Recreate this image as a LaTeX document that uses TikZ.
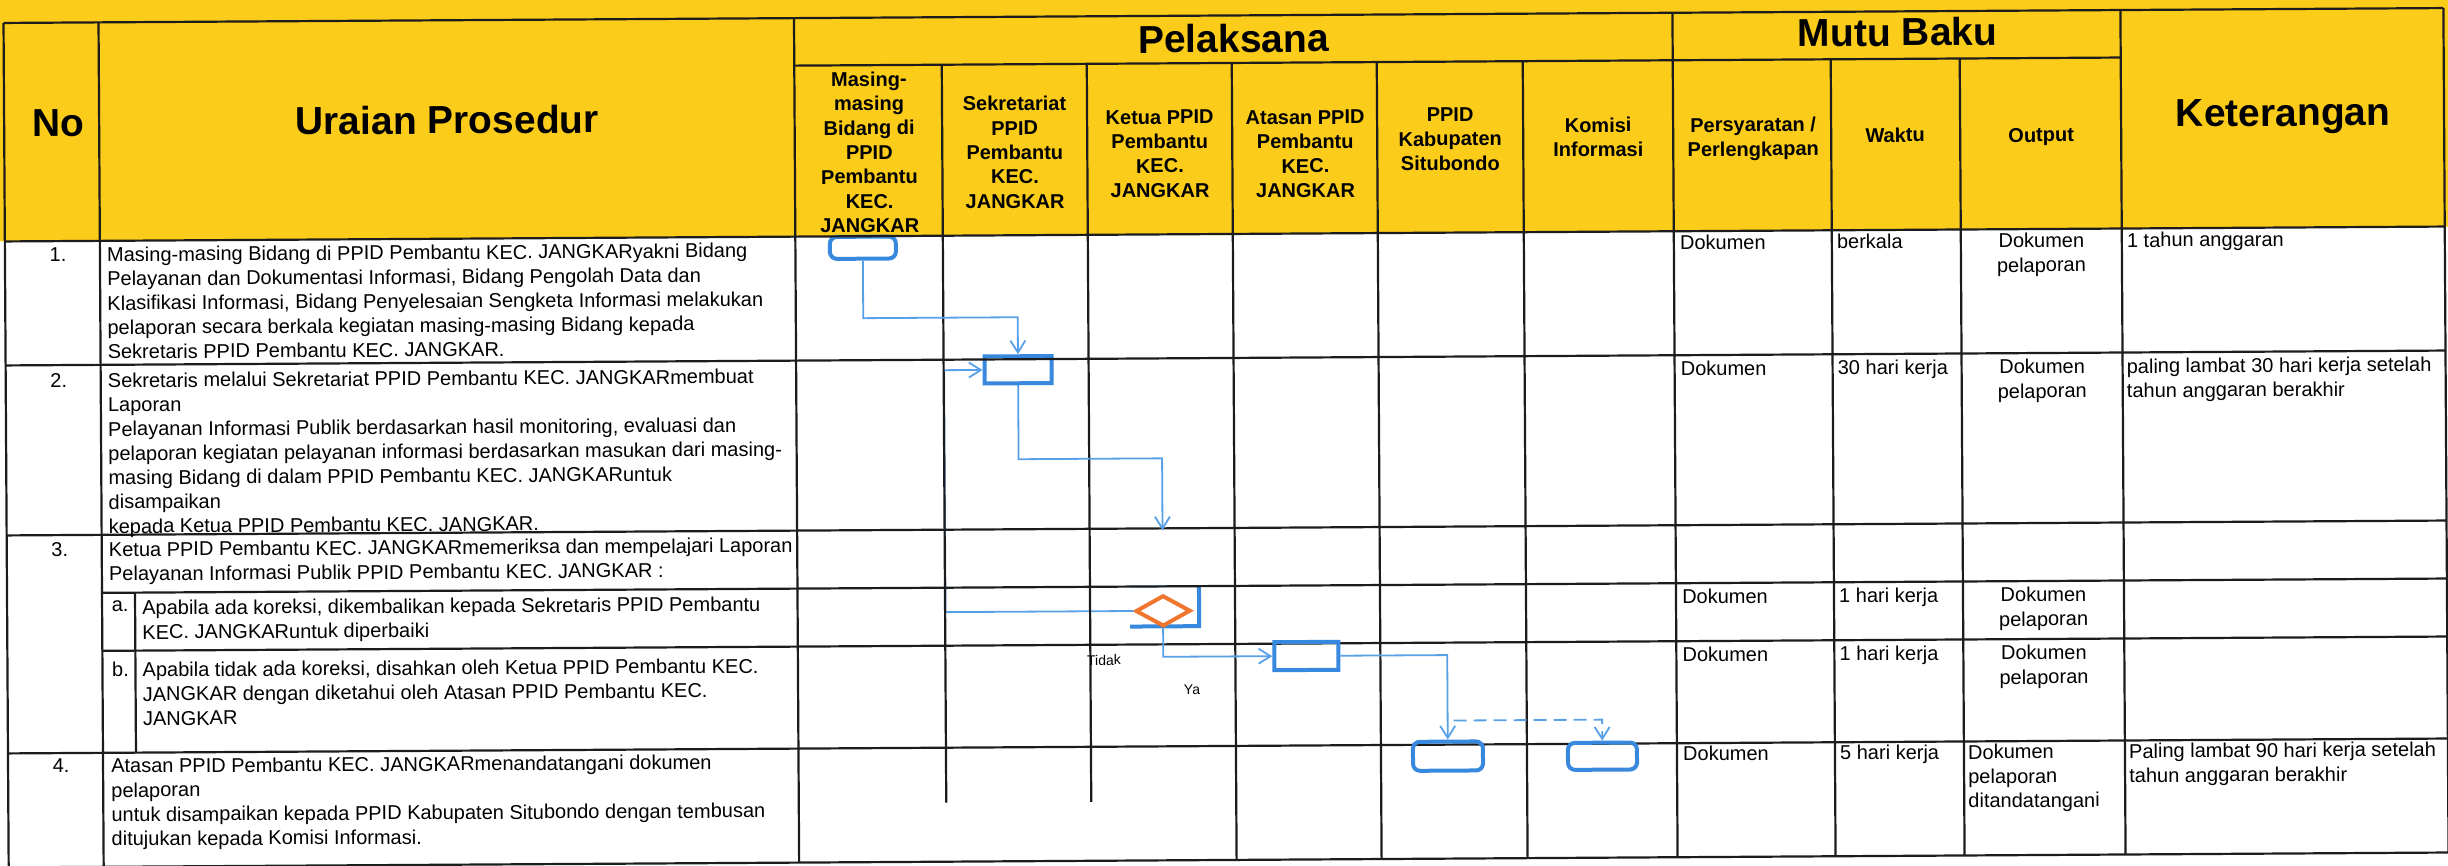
\documentclass[tikz,border=0pt]{standalone}
\usepackage{fontspec}
\setmainfont{Liberation Sans}
\usetikzlibrary{shapes.geometric,arrows.meta}
\definecolor{hdryellow}{RGB}{252,204,26}
\definecolor{boxblue}{RGB}{56,136,222}
\definecolor{linkblue}{RGB}{88,160,232}
\definecolor{decorange}{RGB}{240,118,46}
\definecolor{gridline}{RGB}{28,28,28}
\tikzset{
  gridrule/.style={draw=gridline, line width=2.2pt},
  bighead/.style={font=\fontsize{39}{44}\selectfont\bfseries, inner sep=0pt, anchor=base},
  colhead/.style={font=\fontsize{20}{24.4}\selectfont\bfseries, align=center, inner sep=0pt},
  bodytext/.style={font=\fontsize{20}{24.3}\selectfont, align=left, anchor=north west, inner sep=0pt},
  numtext/.style={font=\fontsize{20}{24.3}\selectfont, anchor=north, inner sep=0pt},
  midtext/.style={font=\fontsize{20}{24.3}\selectfont, align=center, anchor=north, inner sep=0pt},
  smalltext/.style={font=\fontsize{14}{16}\selectfont, inner sep=0pt},
  procbox/.style={draw=boxblue, line width=4pt, inner sep=0pt},
  endbox/.style={procbox, rounded corners=7pt},
  decision/.style={shape=diamond, draw=decorange, fill=white, line width=4pt, inner sep=0pt},
  flow/.style={draw=linkblue, line width=1.8pt, -{Straight Barb[length=12pt,width=15pt]}},
}
\begin{document}
\begin{tikzpicture}[x=1pt,y=-1pt]
\useasboundingbox (0,0) rectangle (2448,866);
\clip (0,0) rectangle (2448,866);
\fill[white] (0,0) rectangle (2448,866);
\begin{scope}[rotate around={0.35:(1224,433)}, transform shape]
\fill[hdryellow] (-40,-40) rectangle (2490,234);

% ---------- flow shapes drawn under the grid rules ----------
\node[endbox, minimum width=66pt, minimum height=22pt] (box1) at (864,245.5) {};
\node[procbox, minimum width=67pt, minimum height=27pt] (box2) at (1018.5,368.5) {};
\draw[draw=linkblue, line width=1.8pt] (1129,586) -- (1198,586);
\draw[draw=boxblue, line width=4pt] (1198,586) -- (1198,626) -- (1129,626);
\node[decision, minimum width=55pt, minimum height=31pt] (dec) at (1162,610.5) {};
\coordinate (lane) at (944.5,0);
\draw[flow] (dec.west) -- (dec.west -| lane) |- (box2.west);

% ---------- grid ----------
\draw[gridrule] (6,15.5) -- (2446,15.5);
\draw[gridrule] (796.5,63) -- (2123,63);
\draw[gridrule] (6,234) -- (2446,234);
\draw[gridrule] (6,358) -- (2446,358);
\draw[gridrule] (6,528) -- (2446,528);
\draw[gridrule] (101,586) -- (2446,586);
\draw[gridrule] (101,644) -- (2446,644);
\draw[gridrule] (6,746) -- (2446,746);
\draw[gridrule] (6,860) -- (2446,860);

\draw[gridrule] (6,15.5) -- (6,860);
\draw[gridrule] (101,15.5) -- (101,860);
\draw[gridrule] (134,586) -- (134,746);
\draw[gridrule] (796.5,15.5) -- (796.5,860);
\draw[gridrule] (944,63) -- (944,801);
\draw[gridrule] (1089,63) -- (1089,801);
\draw[gridrule] (1234,63) -- (1234,860);
\draw[gridrule] (1379,63) -- (1379,860);
\draw[gridrule] (1525,63) -- (1525,860);
\draw[gridrule] (1675,15.5) -- (1675,860);
\draw[gridrule] (1833,63) -- (1833,860);
\draw[gridrule] (1962,63) -- (1962,860);
\draw[gridrule] (2123,15.5) -- (2123,860);
\draw[gridrule] (2446,15.5) -- (2446,860);

% ---------- flow shapes on top ----------
\node[procbox, minimum width=64pt, minimum height=28pt] (box3) at (1305,656.5) {};
\node[endbox, minimum width=70pt, minimum height=29pt] (box4) at (1446,757.5) {};
\node[endbox, minimum width=69pt, minimum height=27pt] (box5) at (1600.5,758.5) {};

\coordinate (j1) at (0,316);
\coordinate (j2) at (0,458);
\coordinate (k3in) at (1162,530);
\coordinate (split) at (1452,722);

\draw[flow] (box1.south) -- (box1.south |- j1) -| (box2.north);
\draw[flow] (box2.south) -- (box2.south |- j2) -| (k3in);
\draw[flow] (dec.south) |- (box3.west);
\draw[flow] (box3.east) -| (box4.north);
\draw[flow, dash pattern=on 13pt off 7pt] (split) -| (box5.north);

\node[smalltext] (lblTidak) at (1102.6,659.3) {Tidak};
\node[smalltext] (lblYa) at (1190.4,689.8) {Ya};

% ---------- header texts ----------
\node[bighead] (hNo) at (60,129) {No};
\node[bighead] (hUraian) at (449,129) {Uraian Prosedur};
\node[bighead] (hPelaksana) at (1236,52.5) {Pelaksana};
\node[bighead] (hMutu) at (1900,50) {Mutu Baku};
\node[bighead] (hKet) at (2285,132.5) {Keterangan};

\node[colhead] (hMasing) at (871,150) {Masing-\\masing\\Bidang di\\PPID\\Pembantu\\KEC.\\JANGKAR};
\node[colhead] (hSekr) at (1016.5,151) {Sekretariat\\PPID\\Pembantu\\KEC.\\JANGKAR};
\node[colhead] (hKetua) at (1161.5,153.5) {Ketua PPID\\Pembantu\\KEC.\\JANGKAR};
\node[colhead] (hAtasan) at (1307,154.5) {Atasan PPID\\Pembantu\\KEC.\\JANGKAR};
\node[colhead] (hKab) at (1452,140.5) {PPID\\Kabupaten\\Situbondo};
\node[colhead] (hKomisi) at (1600,139.5) {Komisi\\Informasi};
\node[colhead] (hSyarat) at (1755,142) {Persyaratan /\\Perlengkapan};
\node[colhead] (hWaktu) at (1897,139) {Waktu};
\node[colhead] (hOutput) at (2043,142) {Output};

% ---------- row 1 ----------
\node[numtext] (n1) at (59,240) {1.};
\node[bodytext] (t1) at (108,240) {Masing-masing Bidang di PPID Pembantu KEC. JANGKARyakni Bidang\\Pelayanan dan Dokumentasi Informasi, Bidang Pengolah Data dan\\Klasifikasi Informasi, Bidang Penyelesaian Sengketa Informasi melakukan\\pelaporan secara berkala kegiatan masing-masing Bidang kepada\\Sekretaris PPID Pembantu KEC. JANGKAR.};
\node[bodytext] (s1) at (1681,238) {Dokumen};
\node[bodytext] (w1) at (1838,238) {berkala};
\node[midtext] (o1) at (2042.5,238) {Dokumen\\pelaporan};
\node[bodytext] (k1) at (2128,238) {1 tahun anggaran};

% ---------- row 2 ----------
\node[numtext] (n2) at (59,366) {2.};
\node[bodytext] (t2) at (108,366) {Sekretaris melalui Sekretariat PPID Pembantu KEC. JANGKARmembuat\\Laporan\\Pelayanan Informasi Publik berdasarkan hasil monitoring, evaluasi dan\\pelaporan kegiatan pelayanan informasi berdasarkan masukan dari masing-\\masing Bidang di dalam PPID Pembantu KEC. JANGKARuntuk\\disampaikan\\kepada Ketua PPID Pembantu KEC. JANGKAR.};
\node[bodytext] (s2) at (1681,364) {Dokumen};
\node[bodytext] (w2) at (1838,364) {30 hari kerja};
\node[midtext] (o2) at (2042.5,364) {Dokumen\\pelaporan};
\node[bodytext] (k2) at (2127,364) {paling lambat 30 hari kerja setelah\\tahun anggaran berakhir};

% ---------- row 3 ----------
\node[numtext] (n3) at (59,535) {3.};
\node[bodytext] (t3) at (108,535) {Ketua PPID Pembantu KEC. JANGKARmemeriksa dan mempelajari Laporan\\Pelayanan Informasi Publik PPID Pembantu KEC. JANGKAR :};
\node[numtext] (n3a) at (119,593.5) {a.};
\node[bodytext] (t3a) at (141,593.5) {Apabila ada koreksi, dikembalikan kepada Sekretaris PPID Pembantu\\KEC. JANGKARuntuk diperbaiki};
\node[bodytext] (s3a) at (1681,592) {Dokumen};
\node[bodytext] (w3a) at (1838,592) {1 hari kerja};
\node[midtext] (o3a) at (2042.5,592) {Dokumen\\pelaporan};
\node[numtext] (n3b) at (119,655.5) {b.};
\node[bodytext] (t3b) at (141,655.5) {Apabila tidak ada koreksi, disahkan oleh Ketua PPID Pembantu KEC.\\JANGKAR dengan diketahui oleh Atasan PPID Pembantu KEC.\\JANGKAR};
\node[bodytext] (s3b) at (1681,650) {Dokumen};
\node[bodytext] (w3b) at (1838,650) {1 hari kerja};
\node[midtext] (o3b) at (2042.5,650) {Dokumen\\pelaporan};

% ---------- row 4 ----------
\node[numtext] (n4) at (59,751.5) {4.};
\node[bodytext] (t4) at (109,751.5) {Atasan PPID Pembantu KEC. JANGKARmenandatangani dokumen\\pelaporan\\untuk disampaikan kepada PPID Kabupaten Situbondo dengan tembusan\\ditujukan kepada Komisi Informasi.};
\node[bodytext] (s4) at (1681,749) {Dokumen};
\node[bodytext] (w4) at (1838,749) {5 hari kerja};
\node[bodytext] (o4) at (1966,749) {Dokumen\\pelaporan\\ditandatangani};
\node[bodytext] (k4) at (2127,749) {Paling lambat 90 hari kerja setelah\\tahun anggaran berakhir};
\end{scope}
\end{tikzpicture}
\end{document}
